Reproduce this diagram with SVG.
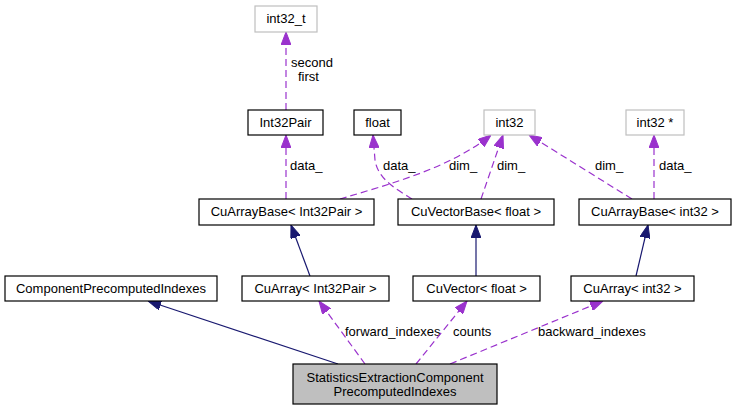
<svg xmlns="http://www.w3.org/2000/svg" width="737" height="411" viewBox="0 0 737 411">
<style>
text{font-family:"Liberation Sans",Arial,Helvetica,sans-serif;font-size:13px;fill:#000}
.node text{text-anchor:middle}
.box{fill:#fff;stroke:#000;stroke-width:1.2}
.ext{fill:#fff;stroke:#bfbfbf;stroke-width:1.2}
.main{fill:#bfbfbf;stroke:#000;stroke-width:1.2}
.use{fill:none;stroke:#9a32cd;stroke-width:1.2;stroke-dasharray:7,4;marker-end:url(#ap)}
.inh{fill:none;stroke:#191970;stroke-width:1.2;marker-end:url(#an)}
</style>
<defs>
<marker id="ap" markerUnits="userSpaceOnUse" viewBox="0 0 13 10" refX="13" refY="5" markerWidth="13" markerHeight="10" orient="auto"><path d="M0,0L13,5L0,10z" fill="#9a32cd" stroke="#9a32cd" stroke-dasharray="none"/></marker>
<marker id="an" markerUnits="userSpaceOnUse" viewBox="0 0 13 10" refX="13" refY="5" markerWidth="13" markerHeight="10" orient="auto"><path d="M0,0L13,5L0,10z" fill="#191970" stroke="#191970"/></marker>
</defs>
<rect width="737" height="411" fill="#fff"/>
<g id="edges">
<path class="use" d="M286,110L286,32"/>
<text x="291" y="67">second</text>
<text x="298" y="81">first</text>
<path class="use" d="M286,199L286,135"/>
<text x="290" y="170">data_</text>
<path class="use" d="M412,199C398,190 378,180 375,160L373,135"/>
<text x="383" y="170">data_</text>
<path class="use" d="M340,199C390,184 450,168 491,135"/>
<text x="449" y="170">dim_</text>
<path class="use" d="M481,199L503,135"/>
<text x="497" y="170">dim_</text>
<path class="use" d="M632,199L529,135"/>
<text x="595" y="170">dim_</text>
<path class="use" d="M654,199L654,135"/>
<text x="659" y="170">data_</text>
<path class="inh" d="M310,276L291,225"/>
<path class="inh" d="M476,276L476,225"/>
<path class="inh" d="M636,276L648,225"/>
<path class="inh" d="M338,364L148,301"/>
<path class="use" d="M365,364L319,301"/>
<text x="345" y="336">forward_indexes</text>
<path class="use" d="M416,364L467,301"/>
<text x="453" y="336">counts</text>
<path class="use" d="M450,364L603,301"/>
<text x="538" y="336">backward_indexes</text>
</g>
<g id="n_int32_t" class="node"><rect class="ext" x="255" y="6" width="62" height="26"/><text x="286" y="23">int32_t</text></g>
<g id="n_Int32Pair" class="node"><rect class="box" x="248" y="110" width="75" height="25"/><text x="285.5" y="127">Int32Pair</text></g>
<g id="n_float" class="node"><rect class="box" x="354" y="110" width="47" height="25"/><text x="377.5" y="127">float</text></g>
<g id="n_int32" class="node"><rect class="ext" x="484" y="110" width="51" height="25"/><text x="509.5" y="127">int32</text></g>
<g id="n_int32ptr" class="node"><rect class="ext" x="626" y="110" width="58" height="25"/><text x="655" y="127">int32 *</text></g>
<g id="n_CuArrayBaseInt32Pair" class="node"><rect class="box" x="199" y="199" width="175" height="26"/><text x="286.5" y="216">CuArrayBase&lt; Int32Pair &gt;</text></g>
<g id="n_CuVectorBaseFloat" class="node"><rect class="box" x="398" y="199" width="156" height="26"/><text x="476" y="216">CuVectorBase&lt; float &gt;</text></g>
<g id="n_CuArrayBaseInt32" class="node"><rect class="box" x="579" y="199" width="152" height="26"/><text x="655" y="216">CuArrayBase&lt; int32 &gt;</text></g>
<g id="n_ComponentPrecomputedIndexes" class="node"><rect class="box" x="5" y="276" width="212" height="25"/><text x="111" y="293">ComponentPrecomputedIndexes</text></g>
<g id="n_CuArrayInt32Pair" class="node"><rect class="box" x="242" y="276" width="147" height="25"/><text x="315.5" y="293">CuArray&lt; Int32Pair &gt;</text></g>
<g id="n_CuVectorFloat" class="node"><rect class="box" x="413" y="276" width="127" height="25"/><text x="476.5" y="293">CuVector&lt; float &gt;</text></g>
<g id="n_CuArrayInt32" class="node"><rect class="box" x="571" y="276" width="123" height="25"/><text x="632.5" y="293">CuArray&lt; int32 &gt;</text></g>
<g id="n_StatisticsExtractionComponentPrecomputedIndexes" class="node"><rect class="main" x="293" y="364" width="204" height="40"/><text x="395" y="382">StatisticsExtractionComponent</text><text x="395" y="396">PrecomputedIndexes</text></g>
</svg>
